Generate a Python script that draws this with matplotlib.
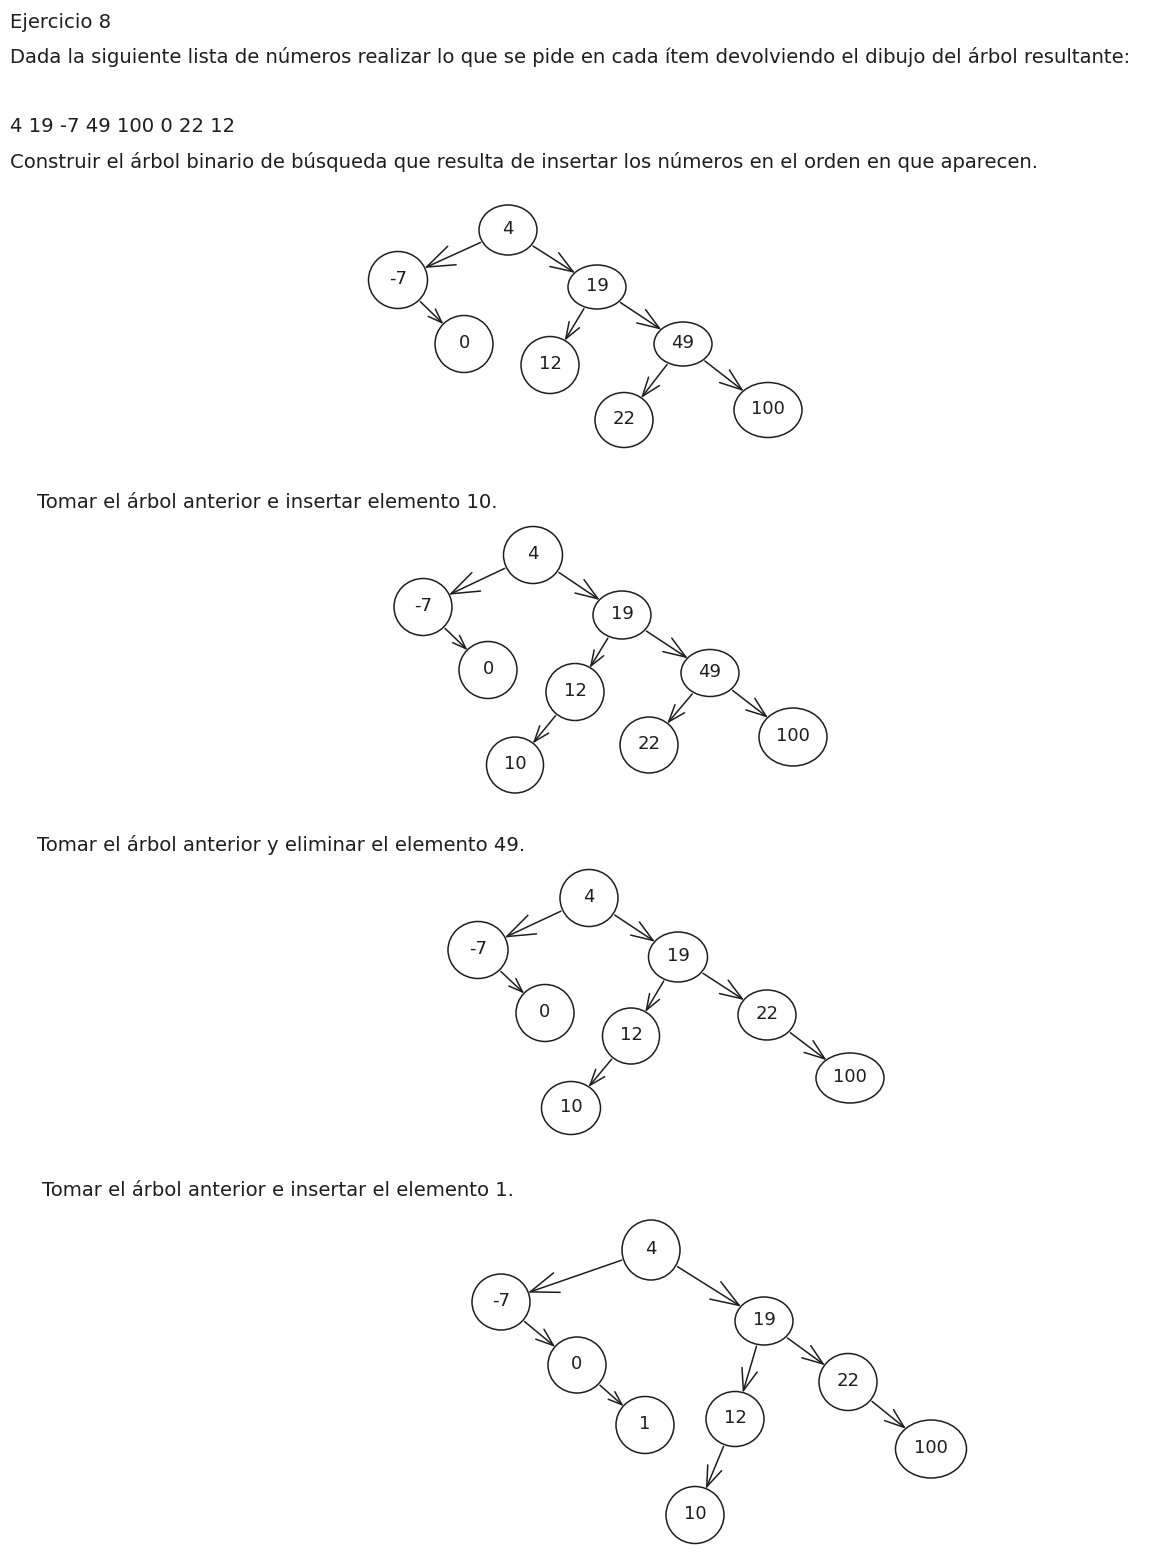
import numpy as np
import matplotlib.pyplot as plt
from matplotlib.patches import Ellipse

INK = "#1e1e1e"

# ---------------------------------------------------------------------
# TEXT
# ---------------------------------------------------------------------

title = "Ejercicio 8"
statement = ("Dada la siguiente lista de números realizar lo que se pide en cada "
             "ítem devolviendo el dibujo del árbol resultante:")
numbers = "4 19 -7 49 100 0 22 12"
task_1 = ("Construir el árbol binario de búsqueda que resulta de insertar los "
          "números en el orden en que aparecen.")
task_2 = "Tomar el árbol anterior e insertar elemento 10."
task_3 = "Tomar el árbol anterior y eliminar el elemento 49."
task_4 = "Tomar el árbol anterior e insertar el elemento 1."

# ---------------------------------------------------------------------
# TREES: edges (parent, child)
# ---------------------------------------------------------------------

edges_1 = [("4", "-7"), ("4", "19"), ("-7", "0"), ("19", "12"),
           ("19", "49"), ("49", "22"), ("49", "100")]
edges_2 = [("4", "-7"), ("4", "19"), ("-7", "0"), ("19", "12"),
           ("19", "49"), ("12", "10"), ("49", "22"), ("49", "100")]
edges_3 = [("4", "-7"), ("4", "19"), ("-7", "0"), ("19", "12"),
           ("19", "22"), ("12", "10"), ("22", "100")]
edges_4 = [("4", "-7"), ("4", "19"), ("-7", "0"), ("0", "1"),
           ("19", "12"), ("19", "22"), ("12", "10"), ("22", "100")]

# layout in pixels: node -> (x, y, width, height)
layout_1 = {"4": (508, 230, 58, 50), "-7": (398, 280, 59, 57),
            "19": (597, 287, 58, 44), "0": (464, 344, 58, 57),
            "12": (550, 365, 58, 57), "49": (683, 344, 58, 44),
            "22": (624, 420, 58, 55), "100": (768, 410, 68, 55)}
layout_2 = {"4": (533, 555, 59, 57), "-7": (423, 607, 58, 57),
            "19": (622, 615, 58, 48), "0": (488, 670, 58, 57),
            "12": (575, 692, 58, 57), "49": (710, 673, 58, 47),
            "10": (515, 765, 57, 56), "22": (649, 745, 58, 56),
            "100": (793, 737, 68, 58)}
layout_3 = {"4": (589, 898, 58, 57), "-7": (478, 950, 60, 57),
            "19": (678, 957, 59, 50), "0": (545, 1013, 58, 57),
            "12": (631, 1036, 57, 56), "22": (767, 1015, 58, 50),
            "10": (571, 1108, 59, 53), "100": (850, 1078, 68, 50)}
layout_4 = {"4": (651, 1250, 58, 60), "-7": (501, 1302, 58, 56),
            "19": (764, 1321, 58, 48), "0": (577, 1365, 58, 56),
            "1": (645, 1425, 58, 57), "22": (848, 1382, 58, 57),
            "12": (735, 1419, 58, 55), "100": (931, 1449, 71, 58),
            "10": (695, 1515, 58, 57)}


def edge_radius(w, h, ux, uy):
    # distance from centre to ellipse border along (ux, uy)
    return 1.0 / np.sqrt((ux / (w / 2)) ** 2 + (uy / (h / 2)) ** 2)


def draw_arrow(ax, p, c, gap=2):
    x0, y0, w0, h0 = p
    x1, y1, w1, h1 = c
    d = np.array([x1 - x0, y1 - y0], float)
    u = d / np.linalg.norm(d)
    start = np.array([x0, y0]) + u * (edge_radius(w0, h0, *u) + gap)
    end = np.array([x1, y1]) - u * (edge_radius(w1, h1, *u) + gap)
    ax.plot([start[0], end[0]], [start[1], end[1]], color=INK, lw=1.1,
            solid_capstyle="round")
    length = np.linalg.norm(end - start)
    head = min(30, length / 2)
    back = np.arctan2(-u[1], -u[0])
    for da in (np.radians(20), -np.radians(20)):
        a = back + da
        tip = end + head * np.array([np.cos(a), np.sin(a)])
        ax.plot([end[0], tip[0]], [end[1], tip[1]], color=INK, lw=1.1,
                solid_capstyle="round")


def draw_tree(ax, edges, layout):
    for parent, child in edges:
        draw_arrow(ax, layout[parent], layout[child])
    for label, (x, y, w, h) in layout.items():
        ax.add_patch(Ellipse((x, y), w, h, fill=False, ec=INK, lw=1.1))
        ax.text(x, y - 1, label, ha="center", va="center", fontsize=13,
                color=INK)


fig = plt.figure(figsize=(11.6, 15.54), dpi=100)
ax = fig.add_axes([0, 0, 1, 1])
ax.set_xlim(0, 1160)
ax.set_ylim(1554, 0)
ax.axis("off")

text_kw = dict(ha="left", va="center", fontsize=14.1, color=INK)
ax.text(10, 22, title, **text_kw)
ax.text(10, 57, statement, **text_kw)
ax.text(10, 127, numbers, **text_kw)
ax.text(10, 162, task_1, **text_kw)
ax.text(37, 503, task_2, **text_kw)
ax.text(37, 845, task_3, **text_kw)
ax.text(42, 1190, task_4, **text_kw)

draw_tree(ax, edges_1, layout_1)
draw_tree(ax, edges_2, layout_2)
draw_tree(ax, edges_3, layout_3)
draw_tree(ax, edges_4, layout_4)

fig.savefig("out.png", dpi=100, facecolor="white")
